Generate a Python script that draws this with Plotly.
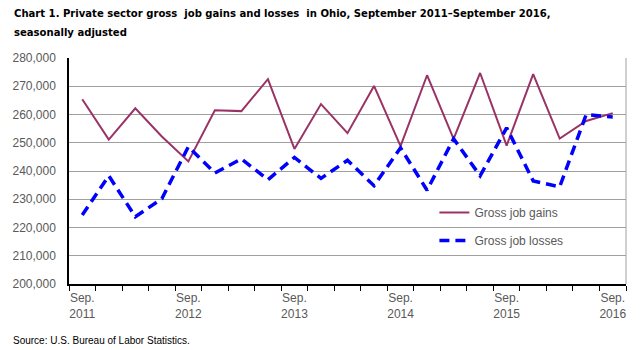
import plotly.graph_objects as go

years = ["2011", "2012", "2013", "2014", "2015", "2016"]
label_text = ["Sep.<br>" + y for y in years]
quarters = list(range(21))
gains = [265400, 251100, 262200, 252200, 243400, 261500, 261200, 272500, 247800, 263700,
         253400, 270100, 248800, 273900, 251400, 274700, 249000, 274300, 251500, 257700, 260500]
losses = [224400, 238300, 223800, 230200, 248600, 239300, 244300, 236900, 244800, 237400,
          243800, 234800, 248200, 233200, 251400, 238300, 255300, 236500, 234400, 260000, 259100]
y_ticks = list(range(200000, 280001, 10000))

fig = go.Figure()
fig.add_trace(go.Scatter(x=quarters, y=gains, mode="lines", name="Gross job gains",
                         legendgroup="g", line=dict(color="#993366", width=2)))
fig.add_trace(go.Scatter(x=quarters, y=losses, mode="lines", name="Gross job losses",
                         legendgroup="l", line=dict(color="#0000FF", width=3.5, dash="10px,6px")))
fig.add_trace(go.Scatter(x=[0], y=[None], xaxis="x2", showlegend=False, hoverinfo="skip"))

font_lbl = dict(family="Liberation Sans, Arial", size=12, color="#595959")
title_font = dict(family="DejaVu Sans Condensed, Liberation Sans Narrow, Arial Narrow", size=11.2, color="black")

fig.update_layout(
    width=642, height=350,
    margin=dict(l=66, r=16, t=58, b=66),
    paper_bgcolor="white", plot_bgcolor="white",
    xaxis=dict(range=[-0.5, 20.5], tickmode="array",
               tickvals=[i - 0.5 for i in range(22)], ticktext=[""] * 22,
               ticks="outside", ticklen=5, tickcolor="black", tickwidth=1,
               showline=True, linecolor="black", linewidth=1.5, showgrid=False, zeroline=False),
    xaxis2=dict(range=[-0.5, 20.5], overlaying="x", side="bottom", tickmode="array",
                tickvals=[0, 4, 8, 12, 16, 20], ticktext=label_text, ticks="",
                showline=False, showgrid=False, zeroline=False, tickfont=font_lbl, ticklabelstandoff=5),
    yaxis=dict(range=[200000, 280000], tickmode="array", tickvals=y_ticks,
               tickformat=",", showgrid=True, gridcolor="#A0A0A0", gridwidth=1,
               showline=True, linecolor="black", linewidth=1.5, zeroline=False,
               ticks="", tickfont=font_lbl, ticklabelstandoff=9),
    legend=dict(x=0.656, y=0.38, xanchor="left", yanchor="top", font=font_lbl,
                bgcolor="rgba(0,0,0,0)", tracegroupgap=9, itemwidth=30),
    showlegend=True,
)

fig.add_shape(type="line", xref="paper", yref="paper", x0=1, x1=1, y0=0, y1=1,
              line=dict(color="#A0A0A0", width=1))

fig.add_annotation(text="<b>Chart 1. Private sector gross  job gains and losses  in Ohio, September 2011–September 2016,</b>",
                   xref="paper", yref="paper", x=-0.103, y=1.195, xanchor="left", yanchor="middle",
                   showarrow=False, font=title_font)
fig.add_annotation(text="<b>seasonally adjusted</b>",
                   xref="paper", yref="paper", x=-0.103, y=1.115, xanchor="left", yanchor="middle",
                   showarrow=False, font=title_font)

fig.add_annotation(text="Source: U.S. Bureau of Labor Statistics.", xref="paper", yref="paper",
                   x=-0.105, y=-0.251, xanchor="left", yanchor="middle", showarrow=False,
                   font=dict(family="Liberation Sans, Arial", size=10, color="black"))

fig.write_html("out.html")
